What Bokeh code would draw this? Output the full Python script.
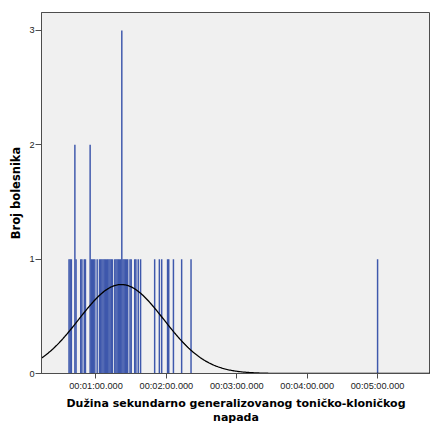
import numpy as np
from bokeh.plotting import figure
from bokeh.models import FixedTicker, Range1d, ColumnDataSource
from bokeh.embed import file_html
from bokeh.resources import INLINE

# Seizure durations (seconds) and their counts
durations = [37, 38, 39, 42, 43, 47, 48, 50, 51, 55, 56, 57, 58, 59, 61,
             63, 64, 65, 66, 67, 68, 69, 70, 71, 72, 73, 74, 76, 77, 78, 79, 80, 81, 82,
             83, 84, 85, 86, 87, 89, 90, 93, 94, 96, 98, 110, 114, 116, 121, 122, 126,
             133, 141, 300]
counts = [1, 1, 1, 2, 1, 1, 1, 1, 1, 2, 1, 1, 1, 1, 1,
          1, 1, 1, 1, 1, 1, 1, 1, 1, 1, 1, 1, 1, 1, 1, 1, 1, 1, 3,
          1, 1, 1, 1, 1, 1, 1, 1, 1, 1, 1, 1, 1, 1, 1, 1, 1,
          1, 1, 1]

# Normal curve parameters (mean, std dev in seconds, N*bin)
curve_mean = 81.5
curve_sd = 36.3
curve_scale = 70.8

tick_values = [60, 120, 180, 240, 300]
tick_labels = ["00:01:00.000", "00:02:00.000", "00:03:00.000", "00:04:00.000", "00:05:00.000"]

x_title = "Dužina sekundarno generalizovanog toničko-kloničkog\nnapada"
y_title = "Broj bolesnika"

p = figure(width=430, height=428, output_backend="svg", toolbar_location=None,
           x_range=Range1d(13.55, 345.1), y_range=Range1d(0, 3.157),
           min_border_left=41, min_border_right=0, min_border_top=12, min_border_bottom=55)
p.background_fill_color = "#f0f0f0"
p.border_fill_color = "white"
p.outline_line_color = "#4d4d4d"
p.grid.visible = False

src = ColumnDataSource(dict(x=durations, top=counts))
p.vbar(x="x", top="top", width=1.25, bottom=0, source=src,
       fill_color="#3e58ac", line_color=None)

xs = np.linspace(13.55, 345.1, 400)
ys = curve_scale / (curve_sd * np.sqrt(2 * np.pi)) * np.exp(-0.5 * ((xs - curve_mean) / curve_sd) ** 2)
p.line(xs, ys, line_color="black", line_width=1.3)

for ax in (p.xaxis[0], p.yaxis[0]):
    ax.axis_line_color = "#4d4d4d"
    ax.major_tick_line_color = "#4d4d4d"
    ax.major_tick_in = 0
    ax.minor_tick_line_color = None
    ax.major_label_text_font = "Liberation Sans"
    ax.major_label_text_font_size = "9.2px"
    ax.major_label_text_color = "#222222"
    ax.axis_label_text_font = "DejaVu Sans"
    ax.axis_label_text_font_style = "bold"
    ax.axis_label_text_color = "black"
    ax.axis_label_text_line_height = 1.15

p.xaxis.ticker = FixedTicker(ticks=tick_values)
p.xaxis.major_label_overrides = {v: l for v, l in zip(tick_values, tick_labels)}
p.xaxis.major_tick_out = 5
p.xaxis.major_label_standoff = 2
p.xaxis.axis_label = x_title
p.xaxis.axis_label_text_font_size = "11px"
p.xaxis.axis_label_standoff = 3

p.yaxis.ticker = FixedTicker(ticks=[0, 1, 2, 3])
p.yaxis.major_tick_out = 6
p.yaxis.major_label_standoff = 1
p.yaxis.axis_label = y_title
p.yaxis.axis_label_text_font_size = "11.5px"
p.yaxis.axis_label_standoff = 3

open("out.html", "w").write(file_html(p, INLINE))
